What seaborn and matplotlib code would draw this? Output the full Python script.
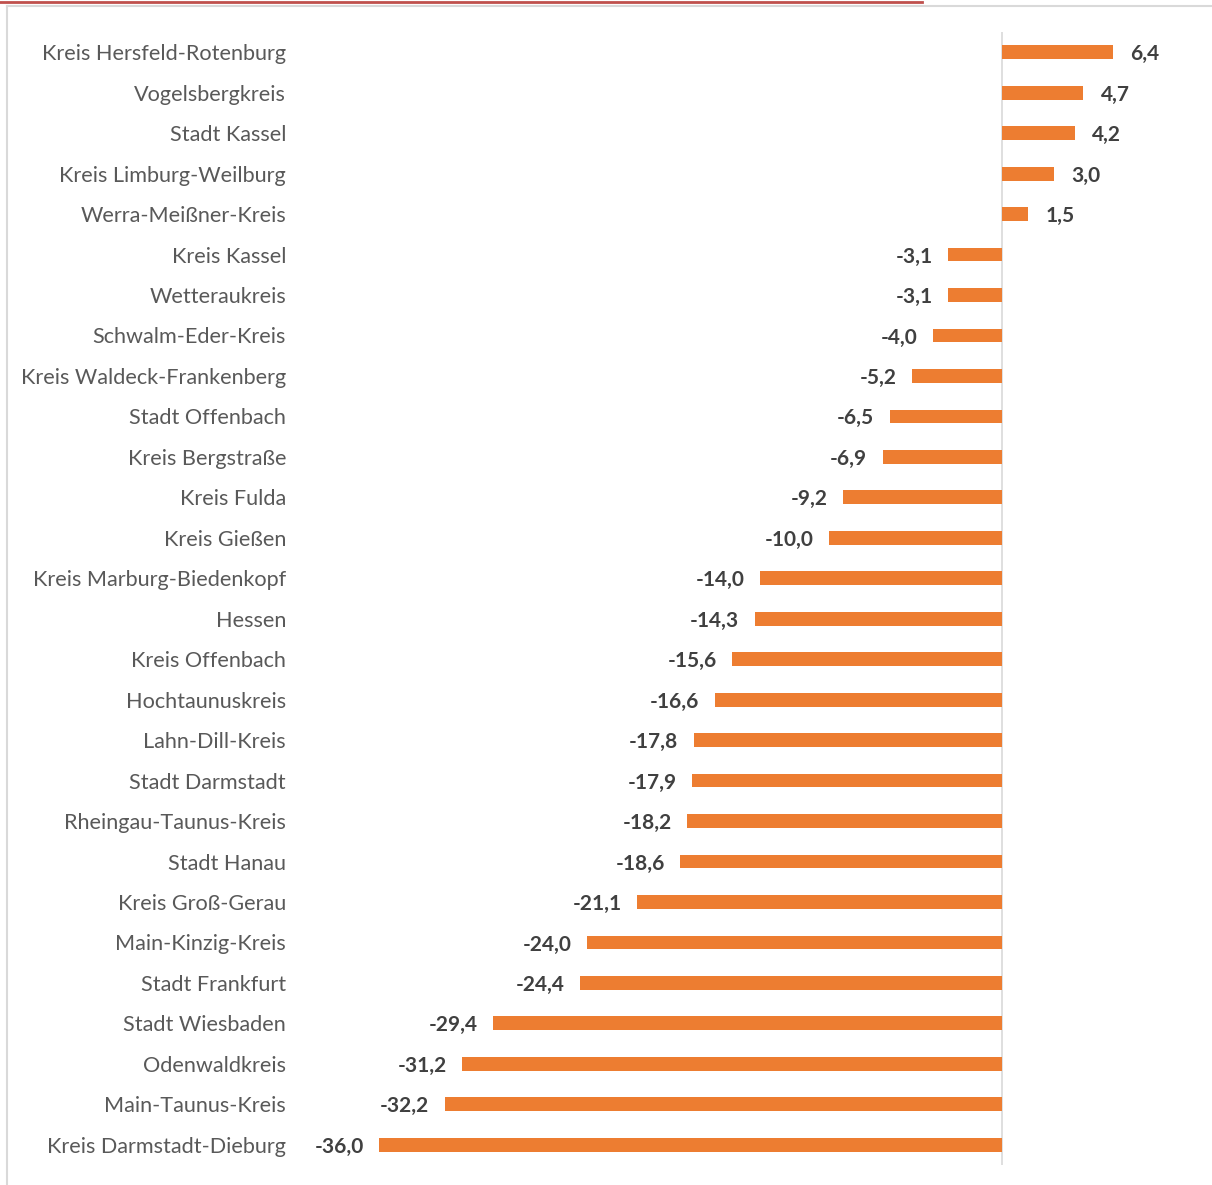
import matplotlib
matplotlib.use("Agg")
import matplotlib.pyplot as plt
import seaborn as sns
import pandas as pd
from matplotlib.lines import Line2D

# Daten
kreise = [
    "Kreis Hersfeld-Rotenburg", "Vogelsbergkreis", "Stadt Kassel",
    "Kreis Limburg-Weilburg", "Werra-Meißner-Kreis", "Kreis Kassel",
    "Wetteraukreis", "Schwalm-Eder-Kreis", "Kreis Waldeck-Frankenberg",
    "Stadt Offenbach", "Kreis Bergstraße", "Kreis Fulda", "Kreis Gießen",
    "Kreis Marburg-Biedenkopf", "Hessen", "Kreis Offenbach",
    "Hochtaunuskreis", "Lahn-Dill-Kreis", "Stadt Darmstadt",
    "Rheingau-Taunus-Kreis", "Stadt Hanau", "Kreis Groß-Gerau",
    "Main-Kinzig-Kreis", "Stadt Frankfurt", "Stadt Wiesbaden",
    "Odenwaldkreis", "Main-Taunus-Kreis", "Kreis Darmstadt-Dieburg",
]
werte = [
    6.4, 4.7, 4.2, 3.0, 1.5, -3.1, -3.1, -4.0, -5.2, -6.5, -6.9, -9.2, -10.0,
    -14.0, -14.3, -15.6, -16.6, -17.8, -17.9, -18.2, -18.6, -21.1, -24.0,
    -24.4, -29.4, -31.2, -32.2, -36.0,
]

df = pd.DataFrame({"Kreis": kreise, "Wert": werte})

W, H = 1212, 1185
fig = plt.figure(figsize=(W / 100, H / 100), dpi=100)

# Achse in Pixeln positionieren
ax_l, ax_r, ax_t, ax_b = 300, 1200, 32, 1165
ax = fig.add_axes([ax_l / W, 1 - ax_b / H, (ax_r - ax_l) / W, (ax_b - ax_t) / H])

sns.barplot(data=df, x="Wert", y="Kreis", color="#ED7D31", width=0.34,
            saturation=1, ax=ax, orient="h")

px_per_unit = 17.3
zero_px = 1002
ax.set_xlim(-(zero_px - ax_l) / px_per_unit, (ax_r - zero_px) / px_per_unit)
ax.set_ylim(len(kreise) - 0.5, -0.5)

ax.axvline(0, color="#D9D9D9", lw=1.2, zorder=0)

for s in ax.spines.values():
    s.set_visible(False)
ax.set_xticks([])
ax.set_xlabel("")
ax.set_ylabel("")
ax.tick_params(axis="y", length=0, pad=10, labelsize=15.6, labelcolor="#595959")
for t in ax.get_yticklabels():
    t.set_family("Lato")

# Werte an die Balken
for i, v in enumerate(werte):
    txt = f"{v:.1f}".replace(".", ",")
    if v >= 0:
        ax.text(v + 1.0, i + 0.05, txt, ha="left", va="center", fontsize=15,
                fontweight="bold", color="#404040", family="Lato")
    else:
        ax.text(v - 0.9, i + 0.05, txt, ha="right", va="center", fontsize=15,
                fontweight="bold", color="#404040", family="Lato")

# Rahmen und rote Linie oben
fig.add_artist(Line2D([7 / W, 7 / W], [0, 1 - 6 / H], color="#D9D9D9", lw=1.5,
                      transform=fig.transFigure))
fig.add_artist(Line2D([7 / W, 1], [1 - 6 / H, 1 - 6 / H], color="#D9D9D9", lw=1.5,
                      transform=fig.transFigure))
fig.add_artist(Line2D([0, 922 / W], [1 - 1.5 / H, 1 - 1.5 / H], color="#C0504D", lw=2,
                      transform=fig.transFigure))

fig.savefig("out.png", dpi=100)
